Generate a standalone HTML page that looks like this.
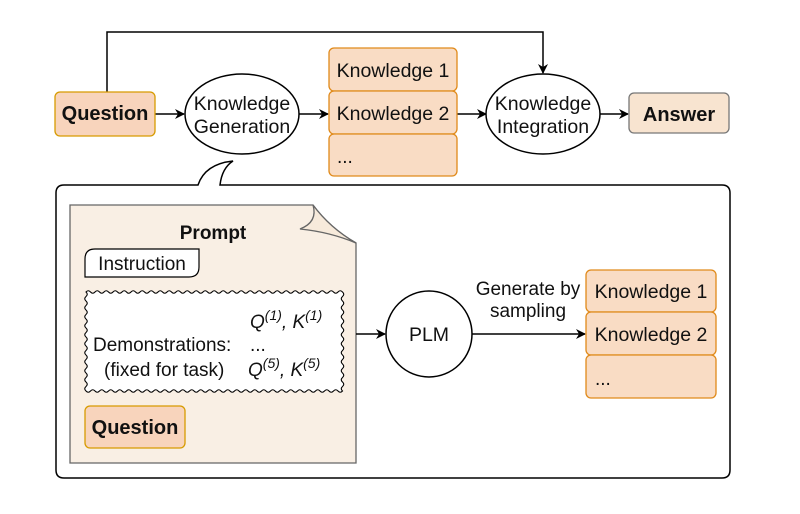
<!DOCTYPE html>
<html><head><meta charset="utf-8"><style>html,body{margin:0;padding:0;background:#fff}svg{display:block}text{font-family:"Liberation Sans",sans-serif;fill:#111}</style></head><body>
<svg width="800" height="514" viewBox="0 0 800 514" xmlns="http://www.w3.org/2000/svg">
<defs>
<marker id="a" markerWidth="10" markerHeight="10" refX="9" refY="5" orient="auto" markerUnits="userSpaceOnUse"><path d="M0,0 L10,5 L0,10 L3,5 Z" fill="#000"/></marker>
</defs>
<g stroke="#000" stroke-width="1.5" fill="none">
<path d="M107,92 V32 H543 V73" marker-end="url(#a)"/>
<path d="M155,114 H184" marker-end="url(#a)"/>
<path d="M299,114 H328" marker-end="url(#a)"/>
<path d="M457,114 H486" marker-end="url(#a)"/>
<path d="M600,114 H628" marker-end="url(#a)"/>
</g>
<rect x="55" y="92" width="100" height="44" rx="5" fill="#f8d4bc" stroke="#d79b00" stroke-width="1.3"/>
<text x="105" y="120" font-size="20" font-weight="bold" text-anchor="middle">Question</text>
<ellipse cx="242" cy="114" rx="57" ry="40" fill="#fff" stroke="#000" stroke-width="1.5"/>
<text x="242" y="110" font-size="19.5" text-anchor="middle">Knowledge</text>
<text x="242" y="133" font-size="19.5" text-anchor="middle">Generation</text>
<g fill="#f9dcc4" stroke="#e08a1a" stroke-width="1.3">
<rect x="329" y="48" width="128" height="43" rx="5"/>
<rect x="329" y="91" width="128" height="43" rx="5"/>
<rect x="329" y="134" width="128" height="42" rx="5"/>
</g>
<text x="393" y="77" font-size="19.5" text-anchor="middle">Knowledge 1</text>
<text x="393" y="120" font-size="19.5" text-anchor="middle">Knowledge 2</text>
<text x="337" y="163" font-size="19">...</text>
<ellipse cx="543" cy="114" rx="57" ry="40" fill="#fff" stroke="#000" stroke-width="1.5"/>
<text x="543" y="110" font-size="19.5" text-anchor="middle">Knowledge</text>
<text x="543" y="133" font-size="19.5" text-anchor="middle">Integration</text>
<rect x="629" y="93" width="100" height="40" rx="5" fill="#f8e4d0" stroke="#777" stroke-width="1.3"/>
<text x="679" y="121" font-size="20" font-weight="bold" text-anchor="middle">Answer</text>

<path d="M198,185 H64 Q56,185 56,193 V470 Q56,478 64,478 H722 Q730,478 730,470 V193 Q730,185 722,185 H220 Q222,168 233,161 Q205,164 198,185 Z" fill="#fff" stroke="#000" stroke-width="1.5"/>

<path d="M70,205 H313 Q330,228 356,243 V463 H70 Z" fill="#f9efe4" stroke="#666" stroke-width="1.3"/>
<path d="M313,205 Q318,222 300,229 Q330,232 356,243 Q330,228 313,205 Z" fill="#f7eadb" stroke="#666" stroke-width="1.3"/>
<text x="213" y="239" font-size="19" font-weight="bold" text-anchor="middle">Prompt</text>
<path d="M95,249 H199 V267 Q199,277 189,277 H85 V259 Q85,249 95,249 Z" fill="#fff" stroke="#000" stroke-width="1.2"/>
<text x="142" y="270" font-size="19" text-anchor="middle">Instruction</text>
<path d="M86,292 q2.25 -2.5 4.5 0 t4.5 0 t4.5 0 t4.5 0 t4.5 0 t4.5 0 t4.5 0 t4.5 0 t4.5 0 t4.5 0 t4.5 0 t4.5 0 t4.5 0 t4.5 0 t4.5 0 t4.5 0 t4.5 0 t4.5 0 t4.5 0 t4.5 0 t4.5 0 t4.5 0 t4.5 0 t4.5 0 t4.5 0 t4.5 0 t4.5 0 t4.5 0 t4.5 0 t4.5 0 t4.5 0 t4.5 0 t4.5 0 t4.5 0 t4.5 0 t4.5 0 t4.5 0 t4.5 0 t4.5 0 t4.5 0 t4.5 0 t4.5 0 t4.5 0 t4.5 0 t4.5 0 t4.5 0 t4.5 0 t4.5 0 t4.5 0 t4.5 0 t4.5 0 t4.5 0 t4.5 0 t4.5 0 t4.5 0 t4.5 0 t4.5 0
q2.5 2.25 0 4.5 t0 4.5 t0 4.5 t0 4.5 t0 4.5 t0 4.5 t0 4.5 t0 4.5 t0 4.5 t0 4.5 t0 4.5 t0 4.5 t0 4.5 t0 4.5 t0 4.5 t0 4.5 t0 4.5 t0 4.5 t0 4.5 t0 4.5 t0 4.5 t0 4.5
q-2.25 2.5 -4.5 0 t-4.5 0 t-4.5 0 t-4.5 0 t-4.5 0 t-4.5 0 t-4.5 0 t-4.5 0 t-4.5 0 t-4.5 0 t-4.5 0 t-4.5 0 t-4.5 0 t-4.5 0 t-4.5 0 t-4.5 0 t-4.5 0 t-4.5 0 t-4.5 0 t-4.5 0 t-4.5 0 t-4.5 0 t-4.5 0 t-4.5 0 t-4.5 0 t-4.5 0 t-4.5 0 t-4.5 0 t-4.5 0 t-4.5 0 t-4.5 0 t-4.5 0 t-4.5 0 t-4.5 0 t-4.5 0 t-4.5 0 t-4.5 0 t-4.5 0 t-4.5 0 t-4.5 0 t-4.5 0 t-4.5 0 t-4.5 0 t-4.5 0 t-4.5 0 t-4.5 0 t-4.5 0 t-4.5 0 t-4.5 0 t-4.5 0 t-4.5 0 t-4.5 0 t-4.5 0 t-4.5 0 t-4.5 0 t-4.5 0 t-4.5 0
q-2.5 -2.25 0 -4.5 t0 -4.5 t0 -4.5 t0 -4.5 t0 -4.5 t0 -4.5 t0 -4.5 t0 -4.5 t0 -4.5 t0 -4.5 t0 -4.5 t0 -4.5 t0 -4.5 t0 -4.5 t0 -4.5 t0 -4.5 t0 -4.5 t0 -4.5 t0 -4.5 t0 -4.5 t0 -4.5 t0 -4.5 Z" fill="#fff" stroke="#000" stroke-width="1.1"/>
<text x="250" y="328" font-size="19" font-style="italic">Q<tspan font-size="14" dy="-8">(1)</tspan><tspan dy="8">, K</tspan><tspan font-size="14" dy="-8">(1)</tspan></text>
<text x="93" y="351" font-size="19">Demonstrations:</text>
<text x="250" y="351" font-size="19">...</text>
<text x="104" y="376" font-size="19">(fixed for task)</text>
<text x="248" y="376" font-size="19" font-style="italic">Q<tspan font-size="14" dy="-8">(5)</tspan><tspan dy="8">, K</tspan><tspan font-size="14" dy="-8">(5)</tspan></text>
<rect x="85" y="406" width="100" height="42" rx="5" fill="#f8d4bc" stroke="#d79b00" stroke-width="1.3"/>
<text x="135" y="434" font-size="20" font-weight="bold" text-anchor="middle">Question</text>

<g stroke="#000" stroke-width="1.5" fill="none">
<path d="M356,334 H385" marker-end="url(#a)"/>
<path d="M472,334 H585" marker-end="url(#a)"/>
</g>
<circle cx="429" cy="334" r="43" fill="#fff" stroke="#000" stroke-width="1.5"/>
<text x="429" y="341" font-size="19.5" text-anchor="middle">PLM</text>
<text x="528" y="295" font-size="19" text-anchor="middle">Generate by</text>
<text x="528" y="317" font-size="19" text-anchor="middle">sampling</text>
<g fill="#f9dcc4" stroke="#e08a1a" stroke-width="1.3">
<rect x="586" y="270" width="130" height="42" rx="5"/>
<rect x="586" y="312" width="130" height="43" rx="5"/>
<rect x="586" y="355" width="130" height="43" rx="5"/>
</g>
<text x="651" y="298" font-size="19.5" text-anchor="middle">Knowledge 1</text>
<text x="651" y="341" font-size="19.5" text-anchor="middle">Knowledge 2</text>
<text x="595" y="385" font-size="19">...</text>
</svg>
</body></html>
